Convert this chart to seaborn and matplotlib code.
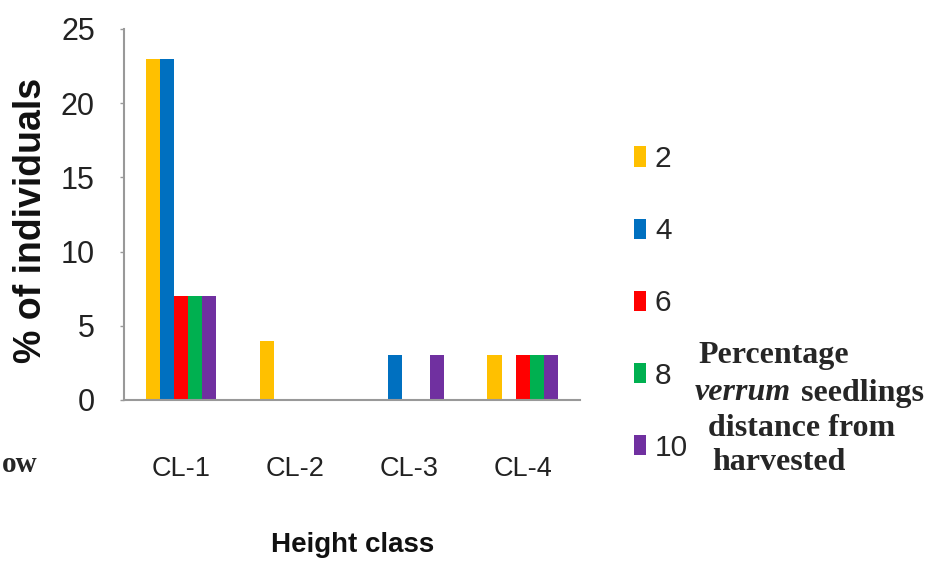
import matplotlib
matplotlib.use("Agg")
import matplotlib.pyplot as plt
from matplotlib.patches import Patch
import seaborn as sns
import pandas as pd

# Height classes and distance-from-harvest groups
classes = ["CL-1", "CL-2", "CL-3", "CL-4"]
distances = ["2", "4", "6", "8", "10"]
colors = ["#FFC000", "#0070C0", "#FF0000", "#00B050", "#7030A0"]

# % of individuals per distance group, one list per height class
cl1 = [23, 23, 7, 7, 7]
cl2 = [4, 0, 0, 0, 0]
cl3 = [0, 3, 0, 0, 3]
cl4 = [3, 0, 3, 3, 3]
yticks = [0, 5, 10, 15, 20, 25]

rows = []
for cls, vals in zip(classes, [cl1, cl2, cl3, cl4]):
    for d, v in zip(distances, vals):
        rows.append({"Height class": cls, "distance": d, "pct": v})
df = pd.DataFrame(rows)

sns.set_theme(style="white")
sans = ["Liberation Sans", "DejaVu Sans"]
serif = ["Liberation Serif", "DejaVu Serif"]

fig = plt.figure(figsize=(9.26, 5.66), dpi=100)
ax = fig.add_axes([0.134, 0.2933, 0.492, 0.6555])

sns.barplot(data=df, x="Height class", y="pct", hue="distance",
            hue_order=distances, palette=colors, width=0.62,
            saturation=1, linewidth=0, ax=ax, legend=False)

ax.set_xlim(-0.5, 3.5)
ax.set_ylim(0, 25)
ax.set_yticks(yticks)
ax.set_yticklabels([str(t) for t in yticks], family=sans, fontsize=22,
                   color="#222222")
ax.set_xticks(range(len(classes)))
ax.set_xticklabels(classes, family=sans, fontsize=19.5, color="#222222")
ax.tick_params(axis="x", length=0, pad=40)
ax.tick_params(axis="y", length=3, width=1, color="#999999", pad=18,
               left=True, direction="out")

for side in ("top", "right"):
    ax.spines[side].set_visible(False)
for side in ("left", "bottom"):
    ax.spines[side].set_color("#999999")
    ax.spines[side].set_linewidth(1.5)

ax.set_xlabel("")
ax.set_ylabel("")
fig.text(0.033, 1 - 220 / 566, "% of individuals", rotation=90,
         ha="center", va="center", fontsize=27, fontweight="bold",
         family=sans, color="#111111")
fig.text(353 / 926, 1 - 545 / 566, "Height class", ha="center",
         va="center", fontsize=20, fontweight="bold", family=sans,
         color="#111111")

handles = [Patch(facecolor=c, edgecolor="none") for c in colors]
fig.legend(handles, distances, loc="upper left",
           bbox_to_anchor=(634 / 926, 1 - 145 / 566), frameon=False,
           prop={"family": sans, "size": 21.5},
           handlelength=0.4, handleheight=0.67, handletextpad=0.3,
           labelspacing=1.48, borderpad=0, borderaxespad=0)

# Caption block beside the legend
cap = [("Percentage", 698, 355, "normal"),
       ("verrum", 695, 393, "italic"),
       ("distance from", 708, 428, "normal"),
       ("harvested", 712, 462, "normal")]
for txt, x, y, st in cap:
    fig.text(x / 926, 1 - y / 566, txt, ha="left", va="center",
             fontsize=23, fontweight="bold", style=st, family=serif)
fig.text(801 / 926, 1 - 393 / 566, "seedlings", ha="left", va="center",
         fontsize=23, fontweight="bold", family=serif)
fig.text(0.002, 1 - 465 / 566, "ow", ha="left", va="center",
         fontsize=21, fontweight="bold", family=serif)

fig.savefig("out.png", dpi=100, facecolor="white")
